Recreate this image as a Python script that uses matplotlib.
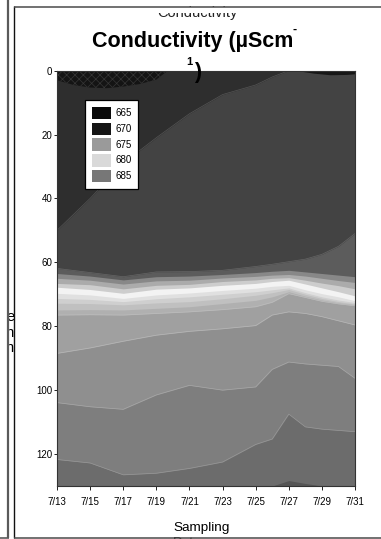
import matplotlib
matplotlib.use('Agg')
import matplotlib.pyplot as plt
from matplotlib.lines import Line2D
from matplotlib.patches import Patch, Rectangle

W, H = 381, 539
plt.rcParams['font.family'] = ['Liberation Sans', 'DejaVu Sans']
plt.rcParams['hatch.linewidth'] = 0.5

# ---- data (day of July, depth in m) ----
days = [13, 15, 17, 19, 21, 23, 25, 26, 27, 28, 29, 30, 31]
date_ticks = [13, 15, 17, 19, 21, 23, 25, 27, 29, 31]
date_labels = ['7/13', '7/15', '7/17', '7/19', '7/21', '7/23', '7/25', '7/27', '7/29', '7/31']
depth_ticks = [0, 20, 40, 60, 80, 100, 120]
max_depth = 130

# isoline depths (top to bottom) at each sampling day
iso_top = [50, 40, 29, 21, 13.5, 7.5, 4.5, 2, 0, 0, 0, 0, 0]
iso_1 = [61.9, 63.2, 64.5, 63.0, 62.9, 62.5, 61.3, 60.6, 59.8, 59.0, 57.5, 55.0, 51.0]
iso_2 = [63.5, 64.3, 65.5, 64.5, 64.3, 63.8, 63.2, 62.8, 62.5, 63.0, 63.5, 64.0, 64.5]
iso_3 = [65.0, 65.6, 66.8, 65.8, 65.6, 64.9, 64.4, 64.0, 63.8, 64.3, 65.0, 65.7, 66.3]
iso_4 = [66.6, 67.0, 68.3, 67.2, 66.9, 66.0, 65.5, 65.0, 64.8, 65.6, 66.5, 67.3, 68.3]
iso_5 = [67.8, 68.5, 69.7, 68.4, 68.0, 67.2, 66.6, 66.0, 65.6, 66.8, 68.0, 69.2, 70.5]
iso_6 = [69.7, 70.2, 71.3, 70.2, 69.6, 68.8, 68.1, 67.5, 67.2, 68.6, 69.8, 70.8, 72.0]
iso_7 = [71.3, 71.6, 72.3, 71.4, 70.8, 70.0, 69.2, 68.6, 68.0, 69.5, 70.8, 71.8, 72.6]
iso_8 = [72.8, 72.9, 73.3, 72.7, 72.3, 71.4, 70.3, 69.5, 68.5, 70.0, 71.3, 72.3, 73.0]
iso_9 = [74.9, 74.8, 74.9, 74.4, 73.9, 72.9, 71.9, 70.8, 69.2, 70.6, 71.8, 72.7, 73.3]
iso_10 = [76.5, 76.4, 76.5, 76.0, 75.5, 74.8, 73.9, 72.5, 69.8, 71.0, 72.2, 73.0, 73.6]
iso_11 = [88.5, 86.8, 84.7, 82.8, 81.6, 80.8, 79.8, 76.5, 75.5, 76.0, 77.0, 78.3, 79.6]
iso_12 = [103.9, 105.2, 106.0, 101.5, 98.5, 100.0, 99.0, 93.5, 91.2, 91.8, 92.2, 92.6, 96.3]
iso_13 = [121.7, 122.8, 126.5, 126.0, 124.5, 122.5, 117.0, 115.3, 107.5, 111.5, 112.2, 112.6, 113.0]
iso_14 = [130, 130, 130, 130, 130, 130, 130, 130, 128.3, 129.2, 130, 130, 130]

# dark surface patches
patch_days = [13, 14, 15, 16, 17, 18, 19, 19.7]
patch_depth = [3.0, 4.5, 5.3, 5.5, 5.0, 4.2, 2.8, 0.0]
strip_days = [27.5, 28.5, 29.5, 30.5, 31]
strip_depth = [0.0, 0.8, 1.3, 1.2, 1.0]

legend_values = ['665', '670', '675', '680', '685']
legend_colors = ['#0a0a0a', '#151515', '#9a9a9a', '#d9d9d9', '#777777']

top_color = '#2e2e2e'
band_colors = ['#434343', '#5c5c5c', '#888888', '#ababab', '#cdcdcd', '#f3f3f3',
               '#e0e0e0', '#cfcfcf', '#c0c0c0', '#b0b0b0', '#a0a0a0', '#8f8f8f',
               '#7e7e7e', '#6c6c6c', '#555555']

# ---- figure ----
fig = plt.figure(figsize=(W / 100, H / 100), dpi=100)
ax = fig.add_axes([57 / W, 53 / H, 298 / W, 415.4 / H])

bounds = [iso_top, iso_1, iso_2, iso_3, iso_4, iso_5, iso_6, iso_7, iso_8,
          iso_9, iso_10, iso_11, iso_12, iso_13, iso_14]
ax.fill_between(days, 0, max_depth, color=top_color, lw=0)
for b, c in zip(bounds, band_colors):
    ax.fill_between(days, b, max_depth, color=c, lw=0)
for b, c in [(iso_top, '#555555'), (iso_1, '#666666'), (iso_10, '#bcbcbc'),
             (iso_11, '#b8b8b8'), (iso_12, '#a8a8a8'), (iso_13, '#989898')]:
    ax.plot(days, b, color=c, lw=0.5)

ax.fill_between(patch_days, 0, patch_depth, facecolor='#141414', edgecolor='#363636',
                hatch='xxxx', lw=0)
ax.fill_between(strip_days, 0, strip_depth, color='#161616', lw=0)

ax.set_xlim(13, 31)
ax.set_ylim(max_depth, 0)
ax.set_xticks(date_ticks, date_labels)
ax.set_yticks(depth_ticks)
ax.tick_params(axis='x', length=3.1, width=0.7, pad=5, labelsize=7, color='#222222')
ax.tick_params(axis='y', length=2.4, width=0.7, pad=1, labelsize=7, color='#222222')
for s in ax.spines.values():
    s.set_linewidth(0.8)
    s.set_color('#333333')

handles = [Patch(facecolor=c, edgecolor='none') for c in legend_colors]
leg = ax.legend(handles, legend_values, loc='upper left',
                bbox_to_anchor=((85 - 57) / 298, (486 - 100) / 415.4),
                borderaxespad=0, fontsize=7, handlelength=1.95, handleheight=1.63,
                labelspacing=0.31, handletextpad=0.45, borderpad=0.7,
                frameon=True, fancybox=False, framealpha=1, edgecolor='black')
leg.get_frame().set_linewidth(0.9)


def P(x, y):
    return (x / W, 1 - y / H)


# title
fig.text(*P(91.7, 46.7), 'Conductivity (µScm', fontsize=15.5, fontweight='bold',
         ha='left', va='baseline')
fig.text(*P(292.5, 32.5), '-', fontsize=9, fontweight='bold', ha='left', va='baseline')
fig.text(*P(186.5, 65), '1', fontsize=8, fontweight='bold', ha='left', va='baseline')
fig.text(*P(194.5, 78), ')', fontsize=15.5, fontweight='bold', ha='left', va='baseline')

# leftovers of neighbouring panels' text, partly hidden
fig.text(*P(197, 17.5), 'Conductivity', fontsize=10.5, ha='center', va='baseline',
         color='#222222', zorder=3)
fig.add_artist(Rectangle(P(60, 13), 280 / W, 6 / H, transform=fig.transFigure,
                         facecolor='white', edgecolor='none', zorder=4))

for s, x, y in [('e', 14.2, 320.7), ('th', 15.2, 337), ('n', 13.6, 351.7)]:
    fig.text(*P(x, y), s, fontsize=10.5, ha='right', va='baseline', zorder=3)
fig.add_artist(Rectangle(P(0, 360), 7.5 / W, 60 / H, transform=fig.transFigure,
                         facecolor='white', edgecolor='none', zorder=4))

fig.text(*P(173.3, 531), 'Sampling', fontsize=9.7, ha='left', va='baseline')
fig.text(*P(173.3, 546.5), 'Date', fontsize=9.7, ha='left', va='baseline')


def line(xs, ys, color, lw):
    fig.add_artist(Line2D([x / W for x in xs], [1 - y / H for y in ys],
                          color=color, lw=lw, zorder=10, solid_capstyle='butt'))


line([8, 8], [0, 538], '#5a5a5a', 1.6)
line([0, 8.8], [537.5, 537.5], '#5a5a5a', 1.2)
line([14.3, 14.3], [6, 538], '#111111', 1.0)
line([13.8, 381], [6.5, 6.5], '#4a4a4a', 1.1)
line([13.8, 381], [537.5, 537.5], '#4a4a4a', 1.1)

fig.savefig('out.png', dpi=100)
